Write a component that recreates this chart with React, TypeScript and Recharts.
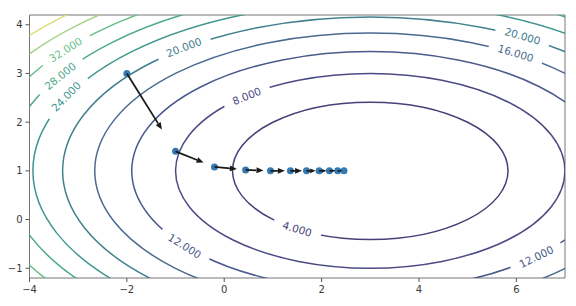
import { ScatterChart, Scatter, XAxis, YAxis, ReferenceArea } from 'recharts';

// contour levels and their colours (washed-out viridis, as in the screenshot)
const levels = [4, 8, 12, 16, 20, 24, 28, 32, 36, 40];
const levelColors = ['#4a3f78', '#4b4a85', '#4a5a8c', '#4a6a90', '#43808f', '#3f968e', '#4aa88a', '#6cbf8a', '#a6d28a', '#d9df7a'];
// ellipse centre and half-axes of each contour
const centerX = 3;
const centerY = 1;
const radiusX = [2.83, 4.0, 4.9, 5.66, 6.32, 6.93, 7.48, 8.0, 8.49, 8.94];
const radiusY = [1.41, 2.0, 2.45, 2.83, 3.16, 3.46, 3.74, 4.0, 4.24, 4.47];

// inline contour labels
const labelLevels = [32, 28, 24, 20, 8, 20, 16, 12, 4, 12];
const labelX = [-3.26, -3.37, -3.25, -0.83, 0.46, 6.13, 5.99, -0.81, 1.5, 6.41];
const labelY = [3.49, 2.95, 2.53, 3.54, 2.54, 3.77, 3.42, -0.54, -0.19, -0.76];
const labelAngle = [-32, -39, -46, -21, -22, 16, 17, 32, 17, -26];

// gradient descent trace
const stepX = [-2, -1, -0.2, 0.44, 0.95, 1.36, 1.69, 1.95, 2.16, 2.33, 2.46];
const stepY = [3, 1.4, 1.08, 1.02, 1.0, 1.0, 1.0, 1.0, 1.0, 1.0, 1.0];

const xTicks = [-4, -2, 0, 2, 4, 6];
const yTicks = [-1, 0, 1, 2, 3, 4];

const font = '"DejaVu Sans", sans-serif';
const fmt = (v: number) => String(v).replace('-', '\u2212');

const colorOf = (lvl: number) => levelColors[levels.indexOf(lvl)];

const contours = levels.map((lvl, i) => ({
  level: lvl,
  color: levelColors[i],
  data: [
    { x: centerX, y: centerY },
    { x: centerX + radiusX[i], y: centerY },
    { x: centerX, y: centerY + radiusY[i] },
  ],
}));

const labels = labelLevels.map((lvl, i) => ({
  x: labelX[i],
  y: labelY[i],
  text: lvl.toFixed(3),
  angle: labelAngle[i],
  color: colorOf(lvl),
}));

const steps = stepX.map((x, i) => ({ x, y: stepY[i] }));

const ellipseLine = (color: string) => (props: any) => {
  const [c, r, t] = props.points;
  return (
    <ellipse
      cx={c.x}
      cy={c.y}
      rx={Math.abs(r.x - c.x)}
      ry={Math.abs(c.y - t.y)}
      fill="none"
      stroke={color}
      strokeWidth={1.5}
    />
  );
};

const LabelShape = (p: any) => {
  const { cx, cy, payload } = p;
  const w = payload.text.length * 6.6 + 16;
  return (
    <g transform={`translate(${cx},${cy}) rotate(${payload.angle})`}>
      <rect x={-w / 2} y={-5} width={w} height={10} fill="#fff" />
      <text
        x={0}
        y={0}
        textAnchor="middle"
        dominantBaseline="central"
        fontSize={10.5}
        fontFamily={font}
        fill={payload.color}
      >
        {payload.text}
      </text>
    </g>
  );
};

const arrowLine = (props: any) => {
  const pts = props.points;
  const out = [];
  for (let i = 0; i < pts.length - 1; i++) {
    const x0 = pts[i].x, y0 = pts[i].y;
    const dx = (pts[i + 1].x - x0) * 0.72;
    const dy = (pts[i + 1].y - y0) * 0.72;
    const len = Math.hypot(dx, dy);
    if (len < 0.5) continue;
    const ux = dx / len, uy = dy / len;
    const hl = Math.min(7, len * 0.6);
    const hw = hl * 0.42;
    const ex = x0 + dx, ey = y0 + dy;
    const bx = ex - ux * hl, by = ey - uy * hl;
    out.push(
      <g key={i}>
        <line x1={x0} y1={y0} x2={bx} y2={by} stroke="#1a1a1a" strokeWidth={1.8} />
        <polygon
          points={`${ex},${ey} ${bx - uy * hw},${by + ux * hw} ${bx + uy * hw},${by - ux * hw}`}
          fill="#1a1a1a"
        />
      </g>
    );
  }
  return <g>{out}</g>;
};

const Dot = (p: any) => <circle cx={p.cx} cy={p.cy} r={3.5} fill="#3579b0" />;
const Empty = () => <g />;

export default function App() {
  return (
    <div style={{ position: 'absolute', left: 0, top: 0, width: 576, height: 306, background: '#fff' }}>
      <ScatterChart width={576} height={306} margin={{ top: 15, right: 11, bottom: 8, left: 8 }}>
        <XAxis
          type="number"
          dataKey="x"
          domain={[-4, 7]}
          allowDataOverflow
          ticks={xTicks}
          tickFormatter={fmt}
          axisLine={false}
          tickLine={{ stroke: '#555' }}
          tickSize={4}
          tickMargin={4}
          height={20}
          tick={{ fontSize: 10, fill: '#3a3a3a', fontFamily: font }}
        />
        <YAxis
          type="number"
          dataKey="y"
          domain={[-1.2, 4.2]}
          allowDataOverflow
          ticks={yTicks}
          tickFormatter={fmt}
          axisLine={false}
          tickLine={{ stroke: '#555' }}
          tickSize={4}
          tickMargin={3}
          width={21.5}
          tick={{ fontSize: 10, fill: '#3a3a3a', fontFamily: font }}
        />
        {contours.map((c) => (
          <Scatter
            key={c.level}
            data={c.data}
            shape={Empty}
            line={ellipseLine(c.color)}
            isAnimationActive={false}
          />
        ))}
        <Scatter data={labels} shape={LabelShape} isAnimationActive={false} />
        <Scatter data={steps} shape={Dot} isAnimationActive={false} />
        <Scatter data={steps} shape={Empty} line={arrowLine} isAnimationActive={false} />
        <ReferenceArea x1={-4} x2={7} y1={-1.2} y2={4.2} fill="none" stroke="#777" strokeWidth={1} />
      </ScatterChart>
    </div>
  );
}
